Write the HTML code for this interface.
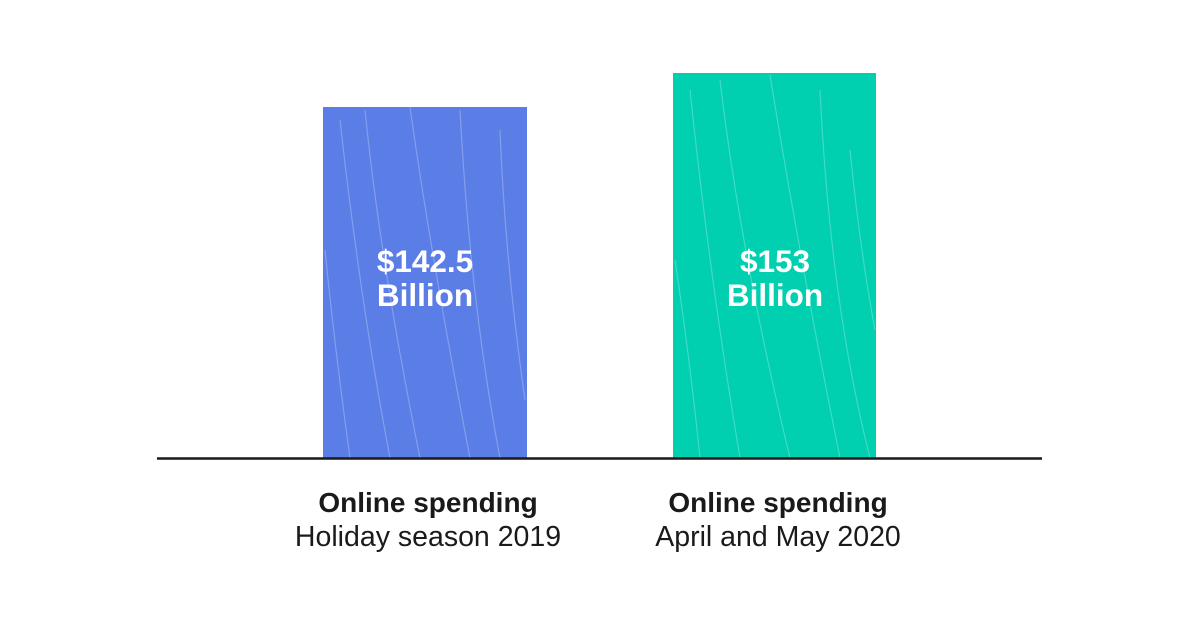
<!DOCTYPE html>
<html><head><meta charset="utf-8"><style>
html,body{margin:0;padding:0;background:#fff;}
</style></head><body>
<svg width="1200" height="628" xmlns="http://www.w3.org/2000/svg" style="display:block">
<rect width="1200" height="628" fill="#fff"/>
<rect x="323" y="107" width="204" height="352" fill="#5b7de6"/>
<rect x="673" y="73" width="203" height="386" fill="#00cfb0"/>
<g fill="none" stroke="#ffffff" stroke-opacity="0.25" stroke-width="1.2">
<path d="M340 120 Q360 300 390 458"/><path d="M365 110 Q380 260 420 458"/><path d="M410 107 Q430 250 470 458"/><path d="M460 110 Q470 300 500 458"/><path d="M500 130 Q505 260 525 400"/><path d="M325 250 Q335 350 350 458"/>
<path d="M690 90 Q710 280 740 458"/><path d="M720 80 Q740 250 790 458"/><path d="M770 75 Q800 260 840 458"/><path d="M820 90 Q830 300 870 458"/><path d="M850 150 Q860 250 875 330"/><path d="M675 260 Q690 360 700 458"/>
</g>
<line x1="157" y1="458.5" x2="1042" y2="458.5" stroke="#1a1a1a" stroke-width="2.5"/>
<g font-family="Liberation Sans, sans-serif" font-weight="bold" font-size="31.5" fill="#fff" text-anchor="middle">
<text x="425" y="272">$142.5</text><text x="425" y="306">Billion</text>
<text x="775" y="272">$153</text><text x="775" y="306">Billion</text>
</g>
<g font-family="Liberation Sans, sans-serif" font-size="28.5" fill="#1a1a1a" text-anchor="middle">
<text x="428" y="512" font-weight="bold" font-size="28">Online spending</text>
<text x="428" y="546">Holiday season 2019</text>
<text x="778" y="512" font-weight="bold" font-size="28">Online spending</text>
<text x="778" y="546">April and May 2020</text>
</g>
</svg>
</body></html>
